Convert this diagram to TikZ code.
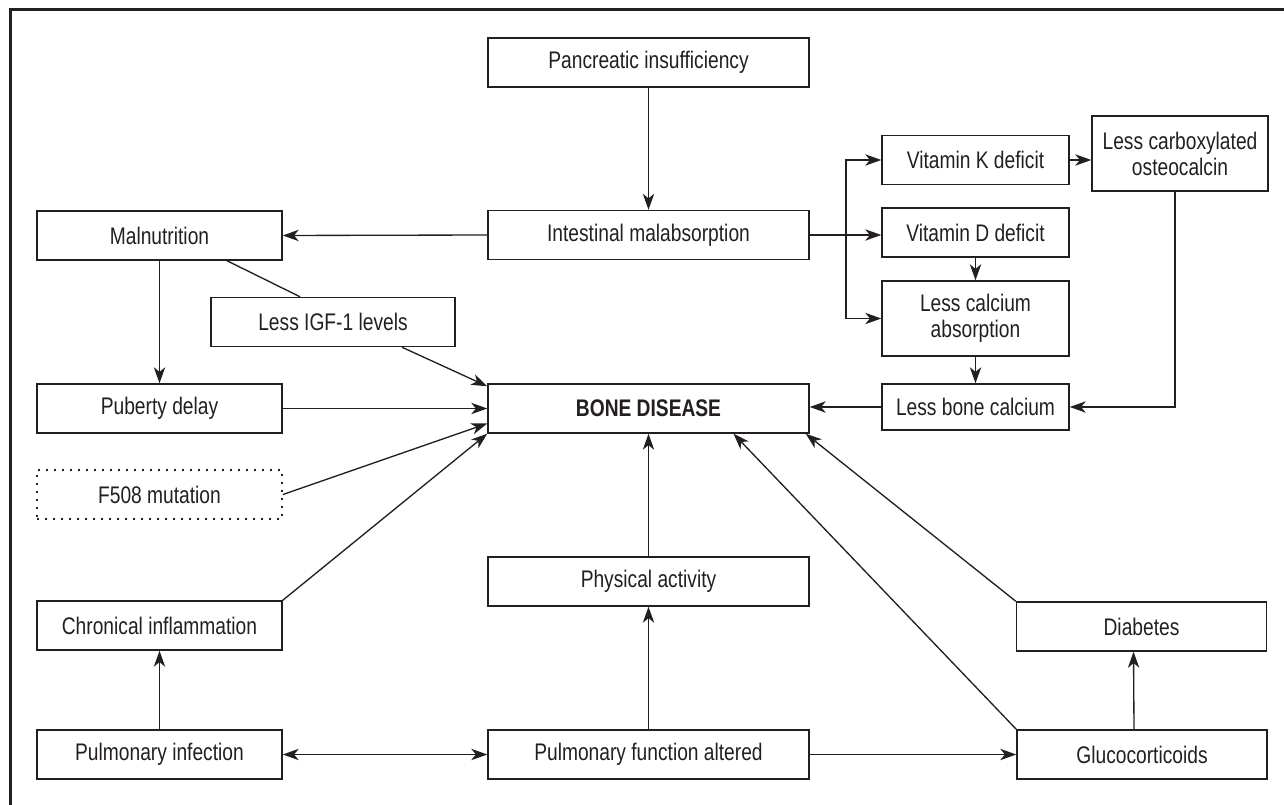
\documentclass[tikz,border=0pt]{standalone}
\usepackage{fontspec}
\setmainfont{Liberation Sans}[FakeStretch=0.8]
\usepackage{tikz}
\usetikzlibrary{arrows.meta,calc}
\definecolor{inkgray}{RGB}{35,31,32}

\tikzset{
  boxnode/.style={draw=inkgray, line width=1.1pt, text=inkgray, minimum width=#1,
    minimum height=36.75pt, inner sep=0pt, align=center,
    font=\fontsize{18}{19.5}\selectfont},
  boxnode/.default=183.75pt,
  dotbox/.style={boxnode=#1, dash pattern=on 1.3pt off 4.7pt, line width=1.4pt},
  dotbox/.default=183.75pt,
  conn/.style={draw=inkgray, line width=1pt, -{Stealth[length=12pt,width=8.5pt,inset=3.5pt]}},
  conntwo/.style={draw=inkgray, line width=1pt,
    {Stealth[length=12pt,width=8.5pt,inset=3.5pt]}-{Stealth[length=12pt,width=8.5pt,inset=3.5pt]}},
  link/.style={draw=inkgray, line width=1pt},
}

\begin{document}
\begin{tikzpicture}[x=0.75pt,y=0.75pt,yscale=-1,xscale=1]
\useasboundingbox (0,0) rectangle (1284,805);

%Frame: top and left edge
\draw [inkgray, line width=2.25pt] (1284,10) -- (10,10) -- (10,805);

%Shape: Rectangle, middle column
\node [boxnode=240.75pt] (panc) at (648.5,62.5) {Pancreatic insufficiency};
\node [boxnode=240.75pt] (intest) at (648.5,235) {Intestinal malabsorption};
\node [boxnode=240.75pt] (bone) at (648.5,408.5) {\textbf{BONE DISEASE}};
\node [boxnode=240.75pt] (phys) at (648.5,581.5) {Physical activity};
\node [boxnode=240.75pt] (pfunc) at (648.5,754.5) {Pulmonary function altered};

%Shape: Rectangle, left column
\node [boxnode] (malnut) at (159.5,235.5) {Malnutrition};
\node [boxnode=183pt] (igf) at (333,322) {Less IGF-1 levels};
\node [boxnode] (puberty) at (159.5,408.5) {Puberty delay};
\node [dotbox] (f508) at (159.5,494.5) {F508 mutation};
\node [boxnode] (chron) at (159.5,625.5) {Chronical inflammation};
\node [boxnode] (pinf) at (159.5,754.5) {Pulmonary infection};

%Shape: Rectangle, right column
\node [boxnode=140.25pt] (vitk) at (975.5,160) {Vitamin K deficit};
\node [boxnode=132pt, minimum height=56.25pt] (carbox) at (1180,153.5) {Less carboxylated\\osteocalcin};
\node [boxnode=140.25pt] (vitd) at (975.5,232.5) {Vitamin D deficit};
\node [boxnode=140.25pt, minimum height=56.25pt] (calcabs) at (975.5,318.5) {Less calcium\\absorption};
\node [boxnode=140.25pt, minimum height=34.5pt] (bonecal) at (975.5,407) {Less bone calcium};
\node [boxnode=187.5pt] (diab) at (1141.5,626.5) {Diabetes};
\node [boxnode=187.5pt] (gluco) at (1142,754.5) {Glucocorticoids};

\coordinate (split) at (846,235);

%Connectors: upper part
\draw [conn] (panc.south) -- (intest.north);
\draw [conn] (intest.west) -- (malnut.east);
\draw [link] ($(malnut.south)+(67.5,0)$) -- ($(igf.north)+(-33,0)$);
\draw [conn] (malnut.south) -- (puberty.north);
\draw [conn] ($(igf.south)+(69,0)$) -- ($(bone.north west)+(0,3)$);
\draw [conn] (puberty.east) -- (bone.west);
\draw [conn] (f508.east) -- ($(bone.west)+(0,15)$);

%Connectors: vitamins
\draw [conn] (intest.east) -- (intest.east -| vitd.west);
\draw [conn] (split) |- (vitk.west);
\draw [conn] (split) |- (calcabs.west);
\draw [conn] (vitk.east) -- (vitk.east -| carbox.west);
\draw [conn] (vitd.south) -- (calcabs.north);
\draw [conn] (calcabs.south) -- (bonecal.north);
\draw [conn] ($(carbox.south)+(-5,0)$) |- (bonecal.east);
\draw [conn] (bonecal.west) -- (bonecal.west -| bone.east);

%Connectors: lower part
\draw [conn] (chron.north east) -- (bone.south west);
\draw [conn] (phys.north) -- (bone.south);
\draw [conn] (pfunc.north) -- (phys.south);
\draw [conn] (pinf.north) -- (chron.south);
\draw [conntwo] (pinf.east) -- (pfunc.west);
\draw [conn] (pfunc.east) -- (gluco.west);
\draw [conn] (gluco.north west) -- ($(bone.south)+(85,0)$);
\draw [conn] (diab.north west) -- ($(bone.south east)+(-4,0)$);
\draw [conn] ($(gluco.north)+(-8,0)$) -- ($(diab.south)+(-8,0)$);
\end{tikzpicture}
\end{document}
